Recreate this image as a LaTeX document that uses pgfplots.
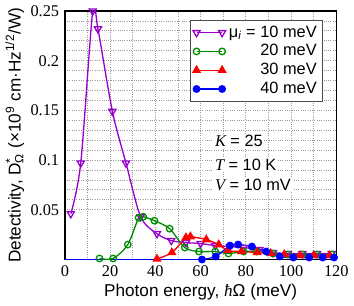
\documentclass[border=0pt]{standalone}
\usepackage{fontspec}
\setmainfont{Liberation Serif}
\setsansfont{Liberation Sans}
\usepackage{pgfplots}
\pgfplotsset{compat=1.18}
\definecolor{cpurple}{RGB}{153,0,204}
\definecolor{cgreen}{RGB}{0,140,0}
\definecolor{cred}{RGB}{255,0,0}
\definecolor{cblue}{RGB}{0,0,255}
\begin{document}
\begin{tikzpicture}
\begin{axis}[
  scale only axis,
  width=166pt, height=152pt,
  xmin=0, xmax=120, ymin=0, ymax=0.25,
  xtick={0,20,...,120},
  ytick={0.05,0.1,0.15,0.2,0.25},
  yticklabels={0.05,0.1,0.15,0.2,0.25},
  minor x tick num=1,
  minor y tick num=4,
  grid=both,
  grid style={gray!80, densely dotted, line width=0.5pt},
  major tick length=0pt, minor tick length=0pt,
  axis line style={line width=0.9pt},
  /pgf/number format/assume math mode=true,
  tick label style={font=\rmfamily\fontsize{10}{12}\selectfont},
  xlabel={\sffamily Photon energy, {\rmfamily\itshape ħ}Ω (meV)},
  ylabel={\sffamily Detectivity, D\rlap{\textsuperscript{*}}\textsubscript{Ω} (×10\textsuperscript{9} cm·Hz\textsuperscript{1/2}/W)},
  label style={font=\sffamily\fontsize{10.5}{12}\selectfont},
  xlabel style={yshift=2pt},
  ylabel style={yshift=-3pt},
  legend style={at={(0.95,0.965)}, anchor=north east, draw=black!70, fill=white,
    font=\sffamily\fontsize{10}{11}\selectfont, row sep=-1pt, inner sep=1.5pt,
    cells={anchor=west}},
  legend image code/.code={\draw[#1] plot coordinates {(0cm,0cm) (0.55cm,0cm)};},
  every axis plot/.append style={line width=0.8pt, smooth},
  clip=true,
]
\addplot[cblue, no marks, forget plot] coordinates {(0,0) (20,0) (40,0) (60.6,0)};
\addplot[cpurple, mark=triangle, mark options={rotate=180, fill=white, scale=1.25}] coordinates {
 (2.6,0.046) (7,0.097) (12.3,0.25) (14.6,0.232) (21,0.149) (27,0.097) (33.5,0.043)
 (40.7,0.026) (47,0.019) (53.5,0.017) (60,0.016) (66.5,0.014) (73,0.013) (79,0.012)
 (86,0.010) (92,0.007) (98.6,0.006) (105,0.006) (111.5,0.006) (118,0.006)};
\addlegendentry{μ\textsubscript{\itshape i} = 10 meV}
\addplot[cgreen, mark=o, mark options={fill=white, scale=1.0}] coordinates {
 (15.3,0.001) (21.3,0.001) (27.8,0.015) (32.6,0.042) (34.6,0.043) (39.6,0.039)
 (46.3,0.031) (53,0.012) (59.3,0.008) (66.5,0.008) (72.3,0.006) (79,0.008)
 (84.8,0.008) (92,0.006) (98.6,0.005) (105,0.005) (111.5,0.005) (118,0.005)};
\addlegendentry{\phantom{μ\textsubscript{\itshape i} = }20 meV}
\addplot[cred, mark=triangle*, mark options={scale=1.25}] coordinates {
 (40.7,0.0005) (47.3,0.007) (53.5,0.022) (55.5,0.023) (62.5,0.020) (68,0.015)
 (72,0.009) (78,0.008) (85,0.007) (91,0.006) (97,0.005) (104,0.004) (110,0.004) (117,0.004)};
\addlegendentry{\phantom{μ\textsubscript{\itshape i} = }30 meV}
\addplot[cblue, mark=*, mark options={scale=1.0}] coordinates {
 (60.6,0.0) (66.7,0.003) (73,0.014) (76.6,0.015) (82.7,0.013) (89,0.008)
 (95,0.003) (101,0.002) (108,0.002) (114,0.002) (119,0.002)};
\addlegendentry{\phantom{μ\textsubscript{\itshape i} = }40 meV}
\node[anchor=west, fill=white, inner sep=1pt] at (axis cs:65.5,0.119) {\sffamily\fontsize{10}{12}\selectfont {\rmfamily\itshape K} = 25};
\node[anchor=west, fill=white, inner sep=1pt] at (axis cs:65.5,0.095) {\sffamily\fontsize{10}{12}\selectfont {\rmfamily\itshape T} = 10 K};
\node[anchor=west, fill=white, inner sep=1pt] at (axis cs:65.5,0.075) {\sffamily\fontsize{10}{12}\selectfont {\rmfamily\itshape V} = 10 mV};
\end{axis}
\end{tikzpicture}
\end{document}
